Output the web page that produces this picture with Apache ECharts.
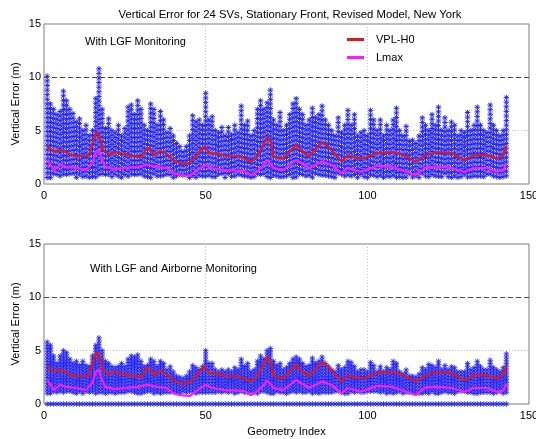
<!DOCTYPE html>
<html>
<head>
<meta charset="utf-8">
<script src="https://cdn.jsdelivr.net/npm/echarts@6/dist/echarts.min.js"></script>
<style>
  html, body { margin: 0; padding: 0; background: #ffffff; }
  #chart { width: 536px; height: 439px; }
</style>
</head>
<body>
<div id="chart"></div>
<script>
// Geometry index of each simulated satellite geometry
const geometry = [
  1,2,3,4,5,6,7,8,9,10,11,12,13,14,15,16,17,18,19,20,
  21,22,23,24,25,26,27,28,29,30,31,32,33,34,35,36,37,38,39,40,
  41,42,43,44,45,46,47,48,49,50,51,52,53,54,55,56,57,58,59,60,
  61,62,63,64,65,66,67,68,69,70,71,72,73,74,75,76,77,78,79,80,
  81,82,83,84,85,86,87,88,89,90,91,92,93,94,95,96,97,98,99,100,
  101,102,103,104,105,106,107,108,109,110,111,112,113,114,115,116,117,118,119,120,
  121,122,123,124,125,126,127,128,129,130,131,132,133,134,135,136,137,138,139,140,
  141,142,143
];

// Largest vertical error per geometry, LGF monitoring only (m)
const lgfMaxError = [
  10.1,7.5,7.0,6.5,6.8,8.7,7.8,7.0,6.6,5.8,
  6.1,5.0,5.5,4.5,5.0,8.0,10.8,7.0,5.2,6.1,
  5.0,4.8,5.5,4.5,5.2,7.2,7.4,6.5,7.8,7.0,
  5.5,5.0,7.5,7.0,5.5,6.8,6.0,4.8,5.2,4.5,
  3.8,3.5,3.0,3.5,4.5,6.4,5.8,6.0,5.5,8.5,
  6.0,6.3,5.0,4.8,5.3,4.5,5.3,4.6,5.5,4.8,
  7.3,5.5,5.9,4.5,5.0,7.0,7.8,7.0,7.6,8.8,
  6.0,5.5,6.7,5.0,5.5,6.5,7.5,8.0,7.0,6.5,
  5.5,6.0,7.1,6.2,6.5,7.3,6.0,5.5,5.0,4.5,
  6.2,4.8,5.5,6.9,5.5,6.5,4.5,4.8,5.0,4.5,
  6.9,6.0,5.0,6.0,4.5,5.5,5.0,6.0,7.1,5.0,
  4.5,5.4,4.0,4.1,3.8,4.5,6.2,5.5,5.0,6.5,
  5.5,7.2,5.0,6.2,5.0,5.8,5.5,4.5,5.0,4.8,
  6.7,5.0,5.5,7.2,5.5,5.0,4.8,7.4,5.5,5.0,
  4.5,5.0,8.1
];

// Largest vertical error per geometry, LGF plus airborne monitoring (m)
const airborneMaxError = [
  5.8,5.5,4.5,3.8,4.5,5.0,4.8,4.2,3.8,4.0,
  3.6,4.0,3.6,3.5,4.5,5.5,6.2,5.0,4.0,3.8,
  3.5,3.4,3.5,3.8,3.5,4.2,4.5,4.4,4.6,4.0,
  3.5,3.6,4.2,4.0,3.5,4.0,3.8,3.2,3.5,3.0,
  2.6,2.5,2.4,2.6,3.0,3.6,3.4,3.2,3.5,5.0,
  3.8,3.8,3.2,3.0,3.2,3.0,3.2,3.0,3.4,3.2,
  4.2,3.5,3.8,3.0,3.2,4.0,4.5,4.2,5.0,5.2,
  4.0,3.6,3.8,3.2,3.4,3.8,4.2,4.4,4.2,3.8,
  3.5,3.6,4.3,3.8,4.0,4.4,3.8,3.5,3.2,3.0,
  3.6,3.2,3.4,4.0,3.9,3.5,3.0,3.2,3.2,3.0,
  3.9,3.6,3.0,3.5,3.0,3.4,3.2,4.0,3.8,3.0,
  2.8,3.2,2.6,2.6,2.5,2.8,3.4,3.2,3.7,3.6,
  3.4,4.0,3.2,3.6,3.2,3.5,3.4,3.0,3.0,3.0,
  3.8,3.2,3.4,4.0,3.5,3.2,3.2,4.1,3.4,3.2,
  3.0,3.4,4.7
];

// Smallest non-zero errors in each column (m)
const lgfMinError = 0.6;
const airborneMinError = 0.95;
// Samples sitting on the zero line in the airborne case (m)
const airborneZeroError = 0;

// Vertical protection level, H0 hypothesis (m)
const vplGeom = [1,3,5,6,8,10,13,14,15,16,17,18,20,22,25,28,30,32,33,34,36,38,40,43,45,47,49,50,51,54,57,60,62,64,66,68,69,70,71,74,76,78,80,82,84,86,88,90,92,94,96,99,103,108,112,115,118,122,126,130,133,137,140,142,143];
const vplValues = [3.6,3.0,3.2,3.1,2.75,2.6,2.6,2.7,3.8,4.8,4.7,3.3,2.8,3.0,2.8,2.6,2.5,3.4,3.3,2.7,3.1,2.8,2.2,1.9,2.0,2.6,3.4,3.5,2.9,2.8,2.6,2.6,2.4,2.1,2.6,3.8,4.4,4.1,2.6,2.4,3.0,3.7,3.0,2.6,3.3,3.9,3.5,2.8,2.1,2.7,2.5,2.4,2.9,3.0,2.6,2.1,2.7,3.0,2.9,2.25,2.7,2.7,2.4,2.7,3.6];

// Maximum error bound Lmax (m)
const lmaxGeom = [1,3,5,7,10,13,15,16,17,18,19,22,25,29,32,35,38,40,43,45,48,50,52,56,60,62,64,66,68,69,70,71,74,78,82,86,89,92,94,98,103,108,112,115,118,122,126,130,133,137,140,142,143];
const lmaxValues = [2.3,1.3,1.8,1.6,1.5,1.3,2.0,3.0,3.2,2.2,1.6,1.4,1.5,1.6,1.8,1.6,1.5,1.0,0.8,0.75,1.4,1.8,1.5,1.3,1.25,1.2,0.85,1.2,1.8,2.2,1.9,1.5,1.3,2.25,1.5,2.1,1.8,1.0,1.5,1.15,1.7,1.6,1.15,0.85,1.55,1.6,1.5,1.15,1.5,1.5,1.15,1.25,1.9];

const alertLimit = 10;

const panelNotes = ['With LGF Monitoring', 'With LGF and Airborne Monitoring'];

const FONT = '"Liberation Sans", Arial, Helvetica, sans-serif';
const STAR_BLUE = '#1c1cf0';

// Draws one column of asterisk markers per geometry, from the largest error down to the smallest.
function asteriskColumn(step, r, width) {
  return function (params, api) {
    const g = api.value(0);
    const lo = api.value(1);
    const hi = api.value(2);
    const top = api.coord([g, hi]);
    const bottom = api.coord([g, lo]);
    const x = top[0];
    const d = r * 0.72;
    let path = '';
    let y = top[1];
    let lastY = y;
    do {
      path += 'M' + (x - r) + ' ' + y + 'L' + (x + r) + ' ' + y +
              'M' + x + ' ' + (y - r) + 'L' + x + ' ' + (y + r) +
              'M' + (x - d) + ' ' + (y - d) + 'L' + (x + d) + ' ' + (y + d) +
              'M' + (x - d) + ' ' + (y + d) + 'L' + (x + d) + ' ' + (y - d);
      lastY = y;
      y += step;
    } while (y <= bottom[1] + 0.01);
    return {
      type: 'path',
      shape: {
        pathData: path,
        x: x - r, y: top[1] - r, width: 2 * r, height: lastY - top[1] + 2 * r,
        layout: 'cover'
      },
      style: { fill: null, stroke: STAR_BLUE, lineWidth: width, opacity: 0.9 }
    };
  };
}

const lgfColumns = geometry.map((g, i) => [g, lgfMinError, lgfMaxError[i]]);
const airborneColumns = geometry.map((g, i) => [g, airborneMinError, airborneMaxError[i]]);
const airborneZeroRow = geometry.map(g => [g, airborneZeroError, airborneZeroError]);
const vplData = vplGeom.map((g, i) => [g, vplValues[i]]);
const lmaxData = lmaxGeom.map((g, i) => [g, lmaxValues[i]]);

const gridTops = [24, 244];

function xAxisFor(idx, withName) {
  return {
    type: 'value', gridIndex: idx, min: 0, max: 150, interval: 50,
    axisLine: { show: false }, axisTick: { show: false },
    axisLabel: { fontFamily: FONT, fontSize: 11, color: '#000', margin: 6 },
    splitLine: { show: true, showMinLine: false, showMaxLine: false,
                 lineStyle: { color: '#c4c4c4', type: [1, 2], width: 1 } },
    name: withName ? 'Geometry Index' : '',
    nameLocation: 'middle', nameGap: 22,
    nameTextStyle: { fontFamily: FONT, fontSize: 11, color: '#000' }
  };
}
function yAxisFor(idx) {
  return {
    type: 'value', gridIndex: idx, min: 0, max: 15, interval: 5,
    axisLine: { show: false }, axisTick: { show: false },
    axisLabel: { fontFamily: FONT, fontSize: 11, color: '#000', margin: 3 },
    splitLine: { show: true, showMinLine: false, showMaxLine: false,
                 lineStyle: { color: '#c4c4c4', type: [1, 2], width: 1 } },
    name: 'Vertical Error (m)', nameLocation: 'middle', nameGap: 23,
    nameMoveOverlap: false,
    nameTextStyle: { fontFamily: FONT, fontSize: 11, color: '#000' }
  };
}

function panelSeries(idx, columns, step, width) {
  return [
    {
      type: 'custom', xAxisIndex: idx, yAxisIndex: idx, clip: false, silent: true, z: 2,
      renderItem: asteriskColumn(step, 2.8, width), data: columns,
      encode: { x: 0, y: [1, 2] }
    },
    {
      name: 'VPL-H0', type: 'line', xAxisIndex: idx, yAxisIndex: idx, data: vplData,
      showSymbol: false, symbol: 'none', z: 4,
      lineStyle: { color: '#dc1a1e', width: 2.2 }, itemStyle: { color: '#dc1a1e' },
      markLine: {
        silent: true, symbol: 'none', label: { show: false },
        lineStyle: { color: '#4a4a4a', type: [5, 3], width: 1 },
        data: [{ yAxis: alertLimit }]
      }
    },
    {
      name: 'Lmax', type: 'line', xAxisIndex: idx, yAxisIndex: idx, data: lmaxData,
      showSymbol: false, symbol: 'none', z: 4,
      lineStyle: { color: '#ff1aff', width: 2.2 }, itemStyle: { color: '#ff1aff' }
    }
  ];
}

const series = [].concat(
  panelSeries(0, lgfColumns, 4.6, 1),
  panelSeries(1, airborneColumns, 3.2, 0.9),
  [{
    type: 'custom', xAxisIndex: 1, yAxisIndex: 1, clip: false, silent: true, z: 2,
    renderItem: asteriskColumn(3, 2.8, 0.9), data: airborneZeroRow,
    encode: { x: 0, y: [1, 2] }
  }]
);

const chart = echarts.init(document.getElementById('chart'), null, { renderer: 'canvas' });
chart.setOption({
  animation: false,
  backgroundColor: '#ffffff',
  title: {
    text: 'Vertical Error for 24 SVs, Stationary Front, Revised Model, New York',
    left: 285, top: 4, textAlign: 'center',
    textStyle: { fontFamily: FONT, fontSize: 11.3, fontWeight: 'normal', color: '#000' }
  },
  legend: {
    data: ['VPL-H0', 'Lmax'], orient: 'vertical', left: 347, top: 34,
    icon: 'rect', itemWidth: 17, itemHeight: 3, itemGap: 7, padding: 0,
    textStyle: { fontFamily: FONT, fontSize: 11, color: '#000', padding: [0, 0, 0, 7] },
    selectedMode: false
  },
  grid: gridTops.map(t => ({
    left: 44, top: t, width: 485, height: 160, show: true,
    outerBoundsMode: 'none', containLabel: false,
    borderColor: '#7c7c7c', borderWidth: 1, backgroundColor: 'transparent'
  })),
  xAxis: [xAxisFor(0, false), xAxisFor(1, true)],
  yAxis: [yAxisFor(0), yAxisFor(1)],
  graphic: [
    { type: 'text', left: 85, top: 36, silent: true,
      style: { text: panelNotes[0], font: '11px ' + FONT, fill: '#000' } },
    { type: 'text', left: 90, top: 263, silent: true,
      style: { text: panelNotes[1], font: '11px ' + FONT, fill: '#000' } }
  ],
  series: series
});
</script>
</body>
</html>
